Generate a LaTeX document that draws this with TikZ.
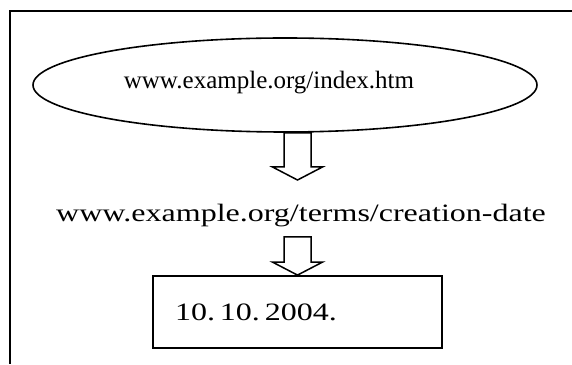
\documentclass[tikz,border=0pt]{standalone}
\usepackage{fontspec}
\setmainfont{Liberation Serif}
\newfontfamily\wideserif[FakeStretch=1.28]{Liberation Serif}
\usetikzlibrary{shapes, calc, positioning}

% hollow block arrow: shaft starts at #1, tip at #2
\newcommand{\hollowarrow}[2]{%
	\draw[blockline] let \p1=(#1), \p2=(#2) in
		(\x2-13.5pt,\y1) -- (\x2-13.5pt,\y2+13pt) -- (\x2-25pt,\y2+13pt)
		-- (\x2,\y2) -- (\x2+25pt,\y2+13pt) -- (\x2+13.5pt,\y2+13pt)
		-- (\x2+13.5pt,\y1) -- cycle;}

\begin{document}
\begin{tikzpicture}[
	x=1pt, y=1pt,
	frameline/.style = {line width=2.2pt},
	blockline/.style = {line width=1.5pt, fill=white},
	page/.style = {ellipse, draw, line width=1.6pt,
		minimum width=504pt, minimum height=94pt},
	box/.style = {rectangle, draw, line width=1.8pt, align=left,
		text width=245pt, inner xsep=22pt, minimum height=72pt}
	]
	\useasboundingbox (0,0) rectangle (572,364);
	
	\draw[frameline] (572,353) -- (10,353) -- (10,0);
	
	\node (page) [page] at (285,279) {};
	\node (pagetext) at (269,281.5) {\fontsize{25}{30}\selectfont www.example.org/index.htm};
	\node (terms) [anchor=base, inner sep=0pt] at (301,142)
		{\wideserif\fontsize{25}{30}\selectfont www.example.org/terms/creation-date};
	\node (date) [box] at (297.5,52)
		{\wideserif\fontsize{25}{30}\selectfont 10. 10. 2004.};
	%
	\hollowarrow{page.south -| date.north}{$(terms.base -| date.north)+(0,42)$}
	\hollowarrow{$(terms.base -| date.north)+(0,-15)$}{date.north}
\end{tikzpicture}
\end{document}
